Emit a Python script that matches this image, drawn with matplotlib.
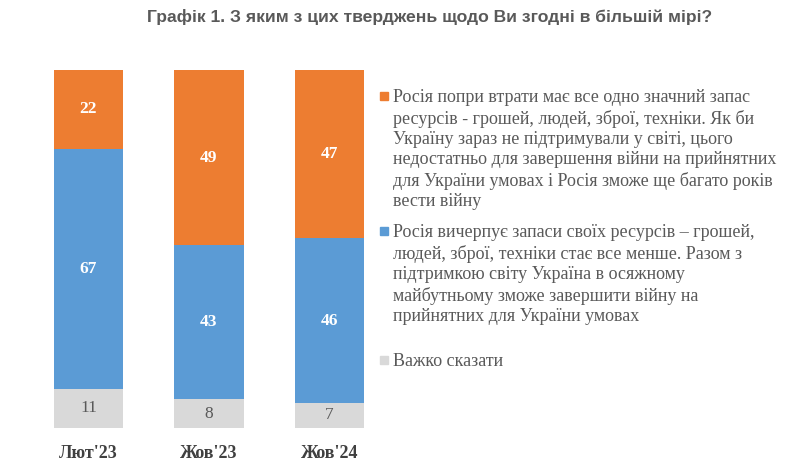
import matplotlib
matplotlib.use("Agg")
import matplotlib.pyplot as plt
import matplotlib.patches as mpatches

# ==== Data ====
periods = ["Лют'23", "Жов'23", "Жов'24"]
hard_to_say = [11, 8, 7]
exhausting = [67, 43, 46]
still_has = [22, 49, 47]

legend_labels = [
    "Росія попри втрати має все одно значний запас\n"
    "ресурсів - грошей, людей, зброї, техніки. Як би\n"
    "Україну зараз не підтримували у світі, цього\n"
    "недостатньо для завершення війни на прийнятних\n"
    "для України умовах і Росія зможе ще багато років\n"
    "вести війну",
    "Росія вичерпує запаси своїх ресурсів – грошей,\n"
    "людей, зброї, техніки стає все менше. Разом з\n"
    "підтримкою світу Україна в осяжному\n"
    "майбутньому зможе завершити війну на\n"
    "прийнятних для України умовах",
    "Важко сказати",
]

title = "Графік 1. З яким з цих тверджень щодо Ви згодні в більшій мірі?"

ORANGE = "#ED7D31"
BLUE = "#5B9BD5"
GREY = "#D9D9D9"
TEXT = "#595959"
SERIF = ["Liberation Serif", "DejaVu Serif"]

W, H = 805, 474
fig = plt.figure(figsize=(W / 100, H / 100), dpi=100)

# axes placed in pixel terms: bars from y=70 to y=428
ax = fig.add_axes([28.25 / W, 46 / H, 361.5 / W, 358 / H])
x = range(len(periods))
bw = 0.573

b1 = ax.bar(x, hard_to_say, width=bw, color=GREY)
b2 = ax.bar(x, exhausting, width=bw, bottom=hard_to_say, color=BLUE)
bottoms3 = [a + b for a, b in zip(hard_to_say, exhausting)]
b3 = ax.bar(x, still_has, width=bw, bottom=bottoms3, color=ORANGE)

ax.bar_label(b1, label_type="center", color=TEXT, fontsize=12.5, family=SERIF)
ax.bar_label(b2, label_type="center", color="white", fontsize=12.5,
             fontweight="bold", family=SERIF)
ax.bar_label(b3, label_type="center", color="white", fontsize=12.5,
             fontweight="bold", family=SERIF)

ax.set_xlim(-0.5, 2.5)
ax.set_ylim(0, 100)
ax.set_xticks(list(x))
ax.set_xticklabels(periods, fontsize=13, fontweight="bold", family=SERIF,
                   color="#404040")
ax.tick_params(axis="x", length=0, pad=12)
ax.set_yticks([])
for s in ax.spines.values():
    s.set_visible(False)

# title
fig.text(430 / W, 1 - 17 / H, title, ha="center", va="center",
         fontsize=12.6, fontweight="bold", color=TEXT,
         family=["Liberation Sans Narrow", "Liberation Sans", "DejaVu Sans"])

# legend, drawn by hand so the square sits by the first line
colors = [ORANGE, BLUE, GREY]
tops = [89, 224, 353]
for lab, col, top in zip(legend_labels, colors, tops):
    fig.patches.append(mpatches.Rectangle((380 / W, 1 - (top + 11) / H),
                                          8 / W, 8 / H, color=col,
                                          transform=fig.transFigure))
    fig.text(393 / W, 1 - top / H, lab, ha="left", va="top",
             fontsize=13, color=TEXT, family=SERIF, linespacing=1.26)

fig.savefig("out.png", dpi=100)
